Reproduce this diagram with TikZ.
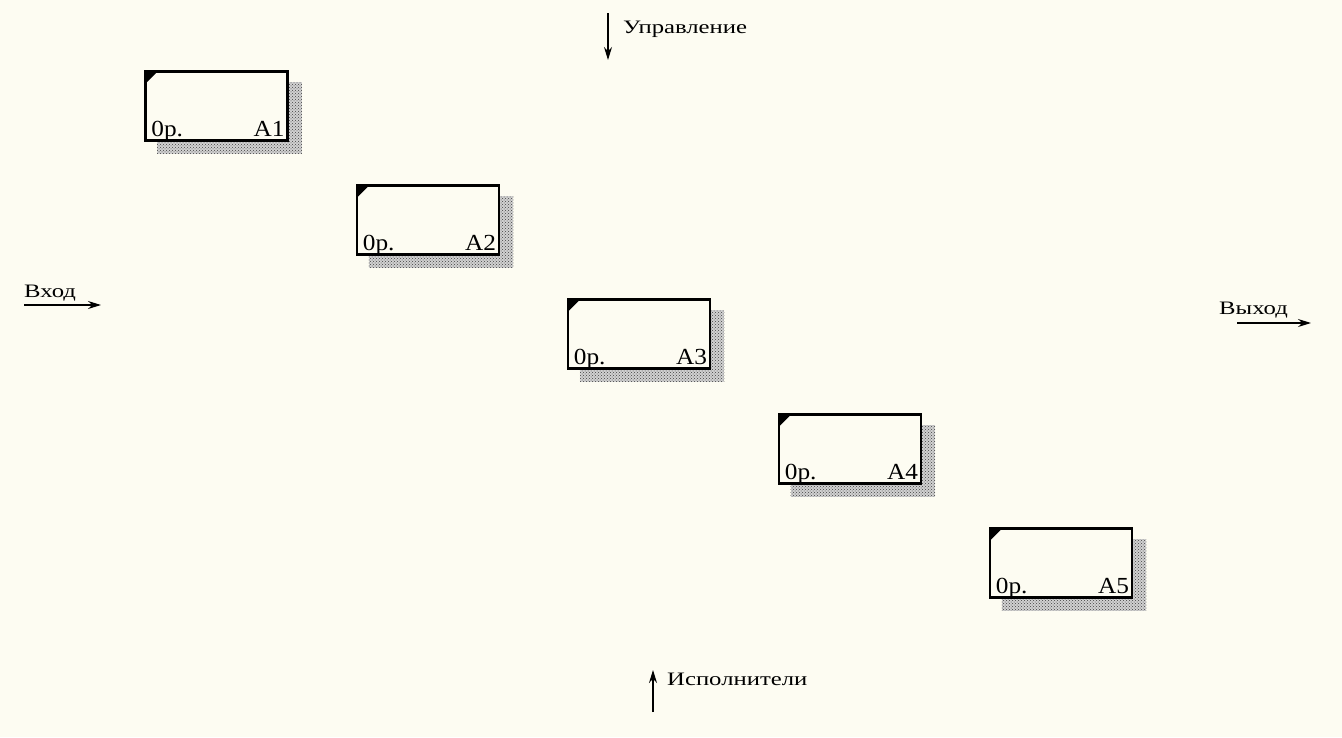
\documentclass[tikz,border=0pt]{standalone}
\usepackage{fontspec}
\setmainfont{Liberation Serif}
\newfontfamily\flowfont{Liberation Serif}[FakeStretch=1.3]
\newfontfamily\boxfont{Liberation Serif}[FakeStretch=1.1]
\usetikzlibrary{patterns,backgrounds,arrows.meta}
\definecolor{paper}{RGB}{253,252,242}
\tikzset{
  act/.style={draw,line width=2.6pt,fill=paper,minimum width=142pt,minimum height=69pt,inner sep=0pt,
    path picture={\fill[black] (path picture bounding box.north west) -- ++(12pt,0) -- ++(-12pt,-12pt) -- cycle;}},
  cost/.style={anchor=base west,inner sep=0pt,font=\boxfont\fontsize{23}{23}\selectfont},
  num/.style={anchor=base east,inner sep=0pt,font=\boxfont\fontsize{23}{23}\selectfont},
  flow/.style={line width=1.3pt,-{Stealth[length=13pt,width=8pt]}},
  flowlbl/.style={anchor=base west,inner sep=0pt,font=\flowfont\fontsize{19}{19}\selectfont},
  hatch/.style={preaction={fill=black!18},pattern=crosshatch dots,pattern color=black!75}
}
\begin{document}
\begin{tikzpicture}[x=1pt,y=-1pt]
 \useasboundingbox (0,0) rectangle (1342,737);
 % activity boxes
 \node[act] (a1) at (216.5,106) {};
 \node[act] (a2) at (428,220) {};
 \node[act] (a3) at (639,334) {};
 \node[act] (a4) at (850,449) {};
 \node[act] (a5) at (1061,563) {};
 \node[cost] (c1) at ([shift={(7pt,5pt)}]a1.south west) {0р.};
 \node[num] (n1) at ([shift={(-4pt,5pt)}]a1.south east) {A1};
 \node[cost] (c2) at ([shift={(7pt,5pt)}]a2.south west) {0р.};
 \node[num] (n2) at ([shift={(-4pt,5pt)}]a2.south east) {A2};
 \node[cost] (c3) at ([shift={(7pt,5pt)}]a3.south west) {0р.};
 \node[num] (n3) at ([shift={(-4pt,5pt)}]a3.south east) {A3};
 \node[cost] (c4) at ([shift={(7pt,5pt)}]a4.south west) {0р.};
 \node[num] (n4) at ([shift={(-4pt,5pt)}]a4.south east) {A4};
 \node[cost] (c5) at ([shift={(7pt,5pt)}]a5.south west) {0р.};
 \node[num] (n5) at ([shift={(-4pt,5pt)}]a5.south east) {A5};
 % boundary arrows
 \node[flowlbl] (ctrl) at (623,33) {Управление};
 \coordinate (ctrl top) at (608,13);
 \coordinate (ctrl end) at (608,60);
 \draw[flow] (ctrl top) -- (ctrl end);
 \node[flowlbl] (inp) at (24,297) {Вход};
 \coordinate (inp start) at (24,305);
 \coordinate (inp end) at (101,305);
 \draw[flow] (inp start) -- (inp end);
 \node[flowlbl] (outp) at (1219,314) {Выход};
 \coordinate (outp start) at (1237,323);
 \coordinate (outp end) at (1311,323);
 \draw[flow] (outp start) -- (outp end);
 \node[flowlbl] (mech) at (667,685) {Исполнители};
 \coordinate (mech start) at (653,712);
 \coordinate (mech end) at (653,670);
 \draw[flow] (mech start) -- (mech end);
 % paper and shadows
 \begin{scope}[on background layer]
  \fill[paper] (0,0) rectangle (1342,737);
  \fill[hatch] ([shift={(13pt,-12pt)}]a1.south west) rectangle ([shift={(13pt,-12pt)}]a1.north east);
  \fill[hatch] ([shift={(13pt,-12pt)}]a2.south west) rectangle ([shift={(13pt,-12pt)}]a2.north east);
  \fill[hatch] ([shift={(13pt,-12pt)}]a3.south west) rectangle ([shift={(13pt,-12pt)}]a3.north east);
  \fill[hatch] ([shift={(13pt,-12pt)}]a4.south west) rectangle ([shift={(13pt,-12pt)}]a4.north east);
  \fill[hatch] ([shift={(13pt,-12pt)}]a5.south west) rectangle ([shift={(13pt,-12pt)}]a5.north east);
 \end{scope}
\end{tikzpicture}
\end{document}
